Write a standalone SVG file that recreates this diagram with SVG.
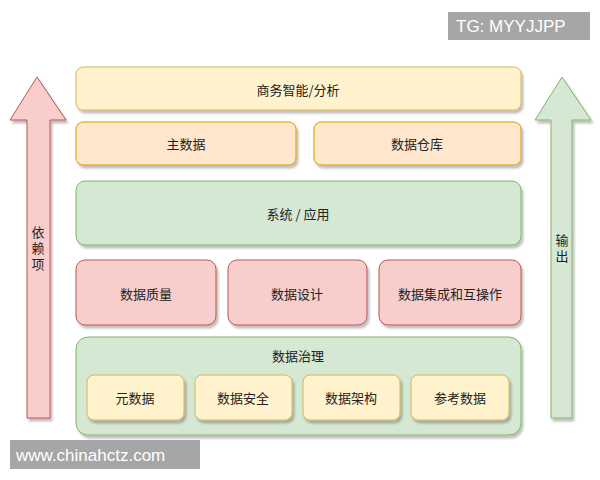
<svg xmlns="http://www.w3.org/2000/svg" width="600" height="480" viewBox="0 0 600 480">
<defs>
<filter id="sh" x="-10%" y="-10%" width="130%" height="140%">
<feDropShadow dx="2" dy="3" stdDeviation="1.2" flood-color="#000" flood-opacity="0.25"/>
</filter>
<style>
text{font-family:"Noto Sans CJK SC","Liberation Sans",sans-serif;font-size:13px;fill:#222;text-anchor:middle;dominant-baseline:central}
.y rect{fill:#fff2cc;stroke:#d6b656;stroke-width:1}
.o rect{fill:#ffe6cc;stroke:#d79b00;stroke-width:1}
.g rect{fill:#d5e8d4;stroke:#82b366;stroke-width:1}
.r rect{fill:#f8cecc;stroke:#b85450;stroke-width:1}
rect.n{filter:url(#sh)}
.wm{fill:#a6a6a6}
.wt{fill:#fff;font-family:"Liberation Sans",Arial,sans-serif;font-size:17px;text-anchor:start}
</style>
</defs>
<rect width="600" height="480" fill="#fff"/>
<g id="watermark-top"><rect class="wm" x="448" y="12" width="142" height="28"/><text class="wt" x="456" y="26.5">TG: MYYJJPP</text></g>
<g id="connectors">
<polygon points="37,77 66,120 50,120 50,418 27,418 27,120 10,120" fill="#f8cecc" stroke="#b85450" filter="url(#sh)"/>
<polygon points="562,77 591,120 572,120 572,418 551,418 551,120 535,120" fill="#d5e8d4" stroke="#82b366" filter="url(#sh)"/>
</g>
<g id="arrow-left-label"><text x="38" y="234" style="writing-mode:vertical-rl;dominant-baseline:auto;text-anchor:start;letter-spacing:3px" transform="translate(0,0)"><tspan x="38" y="226">依赖项</tspan></text></g>
<g id="arrow-right-label"><text x="562" y="234" style="writing-mode:vertical-rl;dominant-baseline:auto;text-anchor:start;letter-spacing:3px"><tspan x="562" y="234">输出</tspan></text></g>
<g id="bi" class="y"><rect class="n" x="76" y="67" width="445" height="43" rx="7"/><text x="298" y="89">商务智能/分析</text></g>
<g id="master" class="o"><rect class="n" x="76" y="122" width="220" height="43" rx="7"/><text x="186" y="143">主数据</text></g>
<g id="dw" class="o"><rect class="n" x="314" y="122" width="207" height="43" rx="7"/><text x="417" y="143">数据仓库</text></g>
<g id="sys" class="g"><rect class="n" x="76" y="181" width="445" height="64" rx="9"/><text x="298" y="213">系统 / 应用</text></g>
<g id="dq" class="r"><rect class="n" x="76" y="260" width="140" height="65" rx="9"/><text x="146" y="293">数据质量</text></g>
<g id="dd" class="r"><rect class="n" x="228" y="260" width="139" height="65" rx="9"/><text x="297" y="293">数据设计</text></g>
<g id="di" class="r"><rect class="n" x="379" y="260" width="142" height="65" rx="9"/><text x="450" y="293">数据集成和互操作</text></g>
<g id="gov" class="g"><rect class="n" x="76" y="337" width="445" height="98" rx="12"/><text x="298" y="355">数据治理</text></g>
<g id="meta" class="y"><rect class="n" x="87" y="375" width="97" height="45" rx="7"/><text x="135" y="397">元数据</text></g>
<g id="sec" class="y"><rect class="n" x="195" y="375" width="97" height="45" rx="7"/><text x="243" y="397">数据安全</text></g>
<g id="arch" class="y"><rect class="n" x="303" y="375" width="97" height="45" rx="7"/><text x="351" y="397">数据架构</text></g>
<g id="ref" class="y"><rect class="n" x="411" y="375" width="98" height="45" rx="7"/><text x="460" y="397">参考数据</text></g>
<g id="watermark-bottom"><rect class="wm" x="10" y="440" width="190" height="29"/><text class="wt" x="16" y="455">www.chinahctz.com</text></g>
</svg>
